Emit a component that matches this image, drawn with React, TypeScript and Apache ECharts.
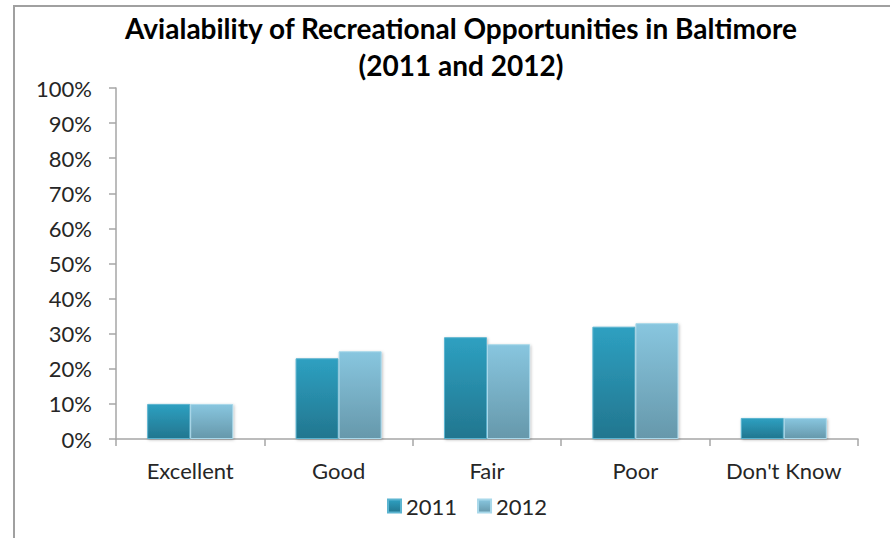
import React, { useEffect, useRef } from "react";
import * as echarts from "echarts";

const categories = ["Excellent", "Good", "Fair", "Poor", "Don't Know"];
const series2011 = [10, 23, 29, 32, 6];
const series2012 = [10, 25, 27, 33, 6];
const seriesNames = ["2011", "2012"];
const titleText = "Avialability of Recreational Opportunities in Baltimore\n(2011 and 2012)";

const FONT = "Lato";

export default function App() {
  const ref = useRef<HTMLDivElement>(null);
  useEffect(() => {
    if (!ref.current) return;
    const chart = echarts.init(ref.current, undefined, { renderer: "svg" });
    const grad = (top: string, bottom: string) =>
      new echarts.graphic.LinearGradient(0, 0, 0, 1, [
        { offset: 0, color: top },
        { offset: 1, color: bottom },
      ]);
    chart.setOption({
      animation: false,
      backgroundColor: "#ffffff",
      textStyle: { fontFamily: FONT },
      title: {
        text: titleText,
        left: 456,
        textAlign: "center",
        top: 4,
        textStyle: { fontFamily: FONT, fontSize: 28, fontWeight: "bold", color: "#000000", lineHeight: 37 },
      },
      graphic: [
        { type: "line", shape: { x1: 14, y1: 6, x2: 14, y2: 538 }, style: { stroke: "#a0a0a0", lineWidth: 2 } },
        { type: "line", shape: { x1: 13, y1: 6, x2: 890, y2: 6 }, style: { stroke: "#a0a0a0", lineWidth: 2 } },
      ],
      legend: {
        data: seriesNames,
        top: 490,
        left: 382,
        icon: "rect",
        itemWidth: 13,
        itemHeight: 13,
        itemGap: 20,
        textStyle: { fontFamily: FONT, fontSize: 22, color: "#262626" },
      },
      grid: { left: 116, right: 32, top: 88, bottom: 99, containLabel: false },
      xAxis: {
        type: "category",
        data: categories,
        axisLine: { lineStyle: { color: "#a6a6a6", width: 1.5 } },
        axisTick: { show: true, length: 7, lineStyle: { color: "#a6a6a6", width: 1.5 } },
        axisLabel: { fontFamily: FONT, fontSize: 22, color: "#262626", margin: 20, interval: 0, hideOverlap: false },
      },
      yAxis: {
        type: "value",
        min: 0,
        max: 100,
        interval: 10,
        axisLine: { show: true, lineStyle: { color: "#a6a6a6", width: 1.5 } },
        axisTick: { show: true, length: 7, lineStyle: { color: "#a6a6a6", width: 1.5 } },
        splitLine: { show: false },
        axisLabel: { fontFamily: FONT, fontSize: 22, color: "#262626", margin: 24, formatter: "{value}%" },
      },
      series: [
        {
          name: seriesNames[0],
          type: "bar",
          data: series2011,
          barGap: "0%",
          barCategoryGap: "42%",
          itemStyle: {
            color: grad("#2ea0c1", "#22768f"),
            borderColor: "#5bb4d0",
            borderWidth: 1,
            shadowBlur: 3,
            shadowColor: "rgba(0,0,0,0.25)",
            shadowOffsetX: 1,
            shadowOffsetY: 1,
          },
        },
        {
          name: seriesNames[1],
          type: "bar",
          data: series2012,
          barGap: "0%",
          barCategoryGap: "42%",
          itemStyle: {
            color: grad("#88c6df", "#6698ab"),
            borderColor: "#a8d8ea",
            borderWidth: 1,
            shadowBlur: 3,
            shadowColor: "rgba(0,0,0,0.25)",
            shadowOffsetX: 1,
            shadowOffsetY: 1,
          },
        },
      ],
    });
    return () => chart.dispose();
  }, []);
  return (
    <div
      ref={ref}
      style={{ position: "absolute", left: 0, top: 0, width: 890, height: 538 }}
    />
  );
}
